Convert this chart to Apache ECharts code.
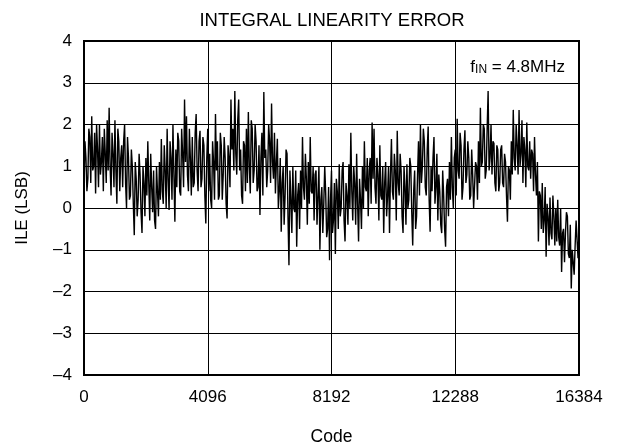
<!DOCTYPE html>
<html><head><meta charset="utf-8">
<script src="https://cdn.jsdelivr.net/npm/echarts@6/dist/echarts.min.js"></script>
<style>html,body{margin:0;padding:0;background:#fff}#c{width:621px;height:446px}</style>
</head><body><div id="c"></div>
<script>
const titleText = 'INTEGRAL LINEARITY ERROR';
const xName = 'Code';
const yName = 'ILE (LSB)';
const xTicks = [0, 4096, 8192, 12288, 16384];
const yTicks = [-4, -3, -2, -1, 0, 1, 2, 3, 4];
const CODE_STEP = 64; // spacing of the main samples; half-step samples sit between them
// ILE read at codes 0, 64, 128, ... 16384
const ile = [
  0.5, 1.2, 0.7, 1.7, 2.2, 1.0, 0.35, 1.4, 2.0, 1.1,
  0.4, 1.3, 2.1, 2.4, 0.3, 1.3, 2.1, 0.1, 1.6, 1.2,
  0.5, 2.0, 0.0, 1.2, 0.3, 1.0, -0.65, 0.7, 0.2, 0.8,
  -0.6, 0.6, 1.2, 1.6, -0.3, 0.5, 0.9, -0.5, 0.4, 1.1,
  1.65, 0.1, 0.9, 1.9, -0.05, 1.2, 2.0, -0.33, 0.5, 1.6,
  0.3, 1.3, 2.6, 2.2, 0.4, 1.2, 1.7, 0.6, 2.25, 0.4,
  1.85, 0.7, 1.5, -0.37, 1.9, 1.3, 0.0, 1.1, 2.25, 1.6,
  0.3, 1.5, 0.8, 1.2, -0.25, 1.2, 2.6, 1.9, 2.8, 0.8,
  2.6, 1.4, 0.1, 1.5, 1.9, 2.3, 0.35, 1.9, 0.9, 1.6,
  0.5, -0.17, 1.8, 2.78, 1.4, 0.9, 1.6, 2.5, 0.7, 0.35,
  1.66, 0.4, -0.57, 1.0, 0.3, 1.3, -1.37, 0.2, 1.0, -0.1,
  -0.93, 0.6, 0.9, 1.7, 0.2, 0.7, 1.1, 1.7, 0.35, -0.3,
  0.9, 0.3, -1.0, 0.5, 0.1, 0.35, -0.5, -1.25, 0.9, -0.3,
  -1.1, 0.4, 1.05, 0.0, 1.1, -0.8, 0.3, 1.05, 1.8, -0.3,
  0.6, 1.3, -0.8, 0.2, 1.0, 1.6, 0.4, -0.2, 1.2, 2.05,
  1.9, 0.1, 0.8, 1.5, 0.2, -0.6, 1.1, 0.3, -0.6, 1.65,
  0.2, 0.9, 1.85, 0.3, 0.9, -0.6, 0.5, 1.05, 0.2, 1.0,
  -0.9, 0.9, -0.2, 1.6, 2.0, 1.0, 1.6, 0.3, 1.95, -0.57,
  0.4, 1.7, 0.5, -0.3, 0.4, -0.6, 0.3, -0.93, 0.7, 1.1,
  1.7, 0.0, 1.4, 2.14, 0.7, 1.5, 0.5, 1.86, 0.8, 1.2,
  0.3, 0.8, 0.0, 1.0, 1.6, 2.4, 1.1, 1.9, 0.9, 2.8,
  1.2, 0.8, 1.55, 0.4, 1.4, 0.6, 1.5, 0.5, 1.1, -0.33,
  0.9, 1.6, 2.35, 0.9, 1.5, 2.35, 1.3, 0.6, 1.4, 2.05,
  0.9, 0.7, 1.3, 1.7, 0.3, -0.8, 0.3, 0.6, -0.3, -1.17,
  -0.2, 0.25, -0.75, -0.2, 0.0, 0.2, -0.9, -1.53, -0.5, -0.6,
  -0.2, -1.2, -1.93, -1.0, -0.9, -0.3, -0.6
];
// ILE read at codes 32, 96, 160, ... 16352 (between the samples above)
const ileHalf = [
  1.6, 0.4, 1.9, 0.6, 0.9, 1.8, 2.0, 0.5, 0.8, 1.7,
  1.9, 0.6, 0.9, 1.0, 1.8, 0.5, 0.9, 1.9, 0.4, 1.5,
  1.6, 0.6, 1.7, 0.2, 1.4, 0.1, 1.1, -0.2, 1.3, -0.1,
  1.0, -0.2, 0.3, 0.6, 1.3, -0.1, -0.3, 1.0, -0.2, 0.2,
  0.4, 1.5, 0.0, 0.7, 1.6, 0.2, 0.8, 1.4, 1.8, 0.4,
  1.9, 0.5, 1.1, 0.8, 1.9, 0.3, 0.5, 1.8, 0.9, 1.6,
  0.5, 1.7, 0.3, 1.2, 0.4, 0.2, 1.6, 0.2, 0.9, 0.2,
  1.8, 0.2, 1.7, 0.1, 1.5, 0.5, 1.4, 0.9, 1.3, 2.1,
  0.9, 0.3, 1.6, 0.4, 0.6, 1.0, 2.1, 0.6, 2.0, 0.4,
  1.5, 1.2, 0.3, 1.2, 0.5, 2.0, 0.6, 1.1, 1.8, 1.1,
  0.0, 1.2, 0.6, -0.4, 1.4, -0.2, 0.9, -0.6, 0.0, 0.9,
  0.3, -0.5, 0.0, 0.5, 1.3, -0.4, 0.1, 0.4, 1.0, 0.8,
  -0.4, 1.0, 0.2, -0.6, 1.0, -0.7, 0.5, 0.2, -0.6, 0.6,
  0.7, -0.5, -0.2, 0.9, -0.3, 0.6, -0.4, 0.0, 0.4, 1.0,
  -0.4, 0.1, 0.7, -0.5, 0.0, 0.5, 1.2, 0.9, 0.1, 0.7,
  0.5, 1.2, -0.3, 0.3, 1.0, 0.6, -0.2, 1.0, 0.8, 0.4,
  1.3, -0.3, 0.6, 1.3, -0.2, 1.0, -0.4, 0.0, 1.2, -0.1,
  0.4, -0.5, 0.8, 0.3, 0.6, 1.9, 0.5, 1.4, 0.2, 1.0,
  1.2, 0.1, 1.3, 0.8, -0.4, 0.9, -0.5, 0.5, -0.2, 0.2,
  0.5, 1.2, 0.3, 0.9, 1.8, 0.2, 1.4, 0.6, 1.6, 0.2,
  1.4, 0.0, 1.1, 0.2, 0.6, 1.0, 2.0, 0.7, 1.9, 0.9,
  2.0, 1.6, 0.6, 1.5, 0.4, 1.4, 0.6, 1.3, 0.3, 1.0,
  0.2, 0.8, 1.2, 2.0, 0.8, 1.0, 2.1, 1.7, 0.5, 1.0,
  1.6, 1.4, 0.4, 0.8, 1.1, 0.4, -0.5, -0.6, 0.5, 0.1,
  -0.9, -0.6, 0.3, -0.9, -0.8, -0.7, 0.0, -0.6, -1.3, -0.1,
  -1.1, -0.4, -1.0, -1.6, -0.3, -1.2
];
const annotation = { f: 'f', sub: 'IN', rest: ' = 4.8MHz' };

const FONT = "'Liberation Sans', Arial, sans-serif";
const seriesData = [];
ile.forEach((v, i) => {
  seriesData.push([i * CODE_STEP, v]);
  if (i < ileHalf.length) seriesData.push([i * CODE_STEP + CODE_STEP / 2, ileHalf[i]]);
});

const chart = echarts.init(document.getElementById('c'), null, { renderer: 'canvas' });
chart.setOption({
  animation: false,
  backgroundColor: '#fff',
  title: [
    { text: titleText, left: 327, top: 6, textAlign: 'center',
      textStyle: { fontFamily: FONT, fontSize: 18.5, fontWeight: 'normal', color: '#000' } },
    { text: '{f|' + annotation.f + '}{sub|' + annotation.sub + '}{n|' + annotation.rest + '}',
      right: 51, top: 51,
      textStyle: { fontWeight: 'normal', rich: {
        f: { fontFamily: FONT, fontSize: 17, fontWeight: 'normal', color: '#000', verticalAlign: 'bottom', lineHeight: 20 },
        sub: { fontFamily: FONT, fontSize: 12, fontWeight: 'normal', color: '#000', verticalAlign: 'bottom', lineHeight: 14 },
        n: { fontFamily: FONT, fontSize: 17, fontWeight: 'normal', color: '#000', verticalAlign: 'bottom', lineHeight: 20 }
      } } }
  ],
  grid: { left: 84, right: 42, top: 41, bottom: 71, show: true, borderColor: '#000', borderWidth: 2,
    backgroundColor: 'transparent', containLabel: false, outerBoundsMode: 'none' },
  xAxis: {
    type: 'value', min: xTicks[0], max: xTicks[xTicks.length - 1], interval: xTicks[1] - xTicks[0],
    name: xName, nameLocation: 'middle', nameGap: 53,
    nameTextStyle: { fontFamily: FONT, fontSize: 17.5, color: '#000' },
    axisLine: { show: false }, axisTick: { show: false },
    axisLabel: { fontFamily: FONT, fontSize: 17, color: '#000', margin: 14, formatter: v => String(v) },
    splitLine: { show: true, lineStyle: { color: '#000', width: 1 } }
  },
  yAxis: {
    type: 'value', min: yTicks[0], max: yTicks[yTicks.length - 1], interval: 1,
    name: yName, nameLocation: 'middle', nameGap: 53,
    nameTextStyle: { fontFamily: FONT, fontSize: 17, color: '#000' },
    axisLine: { show: false }, axisTick: { show: false },
    axisLabel: { fontFamily: FONT, fontSize: 17, color: '#000', margin: 12,
      formatter: v => String(v).replace('-', '\u2013') },
    splitLine: { show: true, lineStyle: { color: '#000', width: 1 } }
  },
  series: [{
    type: 'line', data: seriesData, showSymbol: false, symbol: 'none',
    lineStyle: { color: '#000', width: 1.4 }, clip: true
  }]
});
</script>
</body></html>
